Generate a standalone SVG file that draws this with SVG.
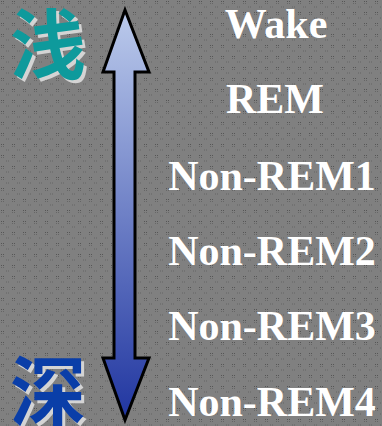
<svg xmlns="http://www.w3.org/2000/svg" width="382" height="426" viewBox="0 0 382 426">
<defs>
<pattern id="bgp" width="11" height="11" patternUnits="userSpaceOnUse">
<rect width="11" height="11" fill="#808080"/>
<rect x="1" y="1" width="1" height="1" fill="#555"/>
<rect x="3" y="1" width="1" height="1" fill="#555"/>
<rect x="1" y="3" width="1" height="1" fill="#666"/>
<rect x="3" y="3" width="1" height="1" fill="#666"/>
<rect x="6" y="6" width="1" height="2" fill="#727272"/>
<rect x="8" y="6" width="1" height="2" fill="#727272"/>
</pattern>
<linearGradient id="ag" x1="0" y1="0" x2="0" y2="1">
<stop offset="0" stop-color="#bccbec"/>
<stop offset="1" stop-color="#2035a0"/>
</linearGradient>
<style>
.lbl{font-family:"Liberation Serif","Times New Roman",serif;font-weight:bold;font-size:42px;fill:#ffffff;text-anchor:middle}
.cjk{font-family:"Noto Sans CJK SC","Noto Sans CJK JP",sans-serif;font-weight:bold;font-size:76px}
.sh{fill:#d4d4d4}
</style>
</defs>
<rect width="382" height="426" fill="url(#bgp)"/>
<g id="shallow">
<text class="cjk sh" x="13" y="76">浅</text>
<text class="cjk" x="10" y="73" fill="#0e9a9c">浅</text>
</g>
<g id="deep">
<text class="cjk sh" x="13" y="423">深</text>
<text class="cjk" x="10" y="420" fill="#0a3ea8">深</text>
</g>
<g id="connectors">
<polygon points="125,10 149,72 135,72 135,358 149,358 125,420 103,358 114,358 114,72 103,72" fill="url(#ag)" stroke="#000" stroke-width="3" stroke-linejoin="miter"/>
</g>
<g id="wake"><text class="lbl" x="276" y="38">Wake</text></g>
<g id="rem"><text class="lbl" x="275" y="113">REM</text></g>
<g id="nrem1"><text class="lbl" x="272" y="190">Non-REM1</text></g>
<g id="nrem2"><text class="lbl" x="272" y="265">Non-REM2</text></g>
<g id="nrem3"><text class="lbl" x="272" y="340">Non-REM3</text></g>
<g id="nrem4"><text class="lbl" x="272" y="416">Non-REM4</text></g>
</svg>
